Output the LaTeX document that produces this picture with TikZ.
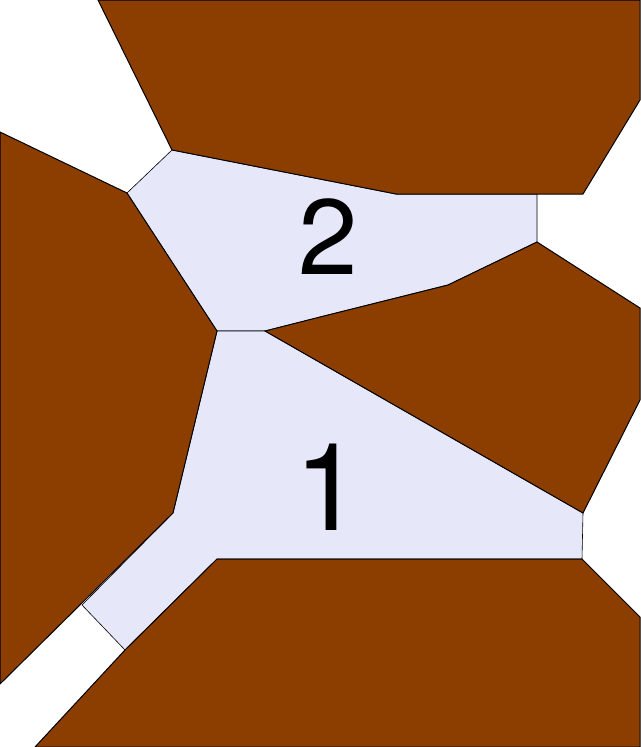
\documentclass[tikz,border=0pt]{standalone}
\usepackage{fontspec}
\setmainfont{TeX Gyre Heros}
\definecolor{rock}{RGB}{139,62,0}
\definecolor{room}{RGB}{230,232,250}
\begin{document}
\begin{tikzpicture}[x=1pt,y=-1pt,
  rockface/.style={fill=rock,draw=black,line width=1pt,line join=miter},
  roomface/.style={fill=room,draw=black,line width=0.6pt},
  bignum/.style={inner sep=0pt,anchor=base,text=black}]
\useasboundingbox (0,0) rectangle (640,747);
\fill[white] (0,0) rectangle (640,747);
% light regions
\draw[roomface] (127,193) -- (172,150) -- (396,194) -- (537,194) -- (537,242) -- (448,285) -- (265,331) -- (217,331) -- cycle;
\draw[roomface] (217,331) -- (265,331) -- (583,513) -- (582,559) -- (217,559) -- (125,650) -- (82,605) -- (173,513) -- cycle;
% rock polygons
\draw[rockface] (98,0) -- (640,0) -- (640,100) -- (583,194) -- (396,194) -- (172,150) -- cycle;
\draw[rockface] (0,132) -- (127,193) -- (217,331) -- (173,513) -- (0,684) -- cycle;
\draw[rockface] (265,331) -- (320,317) -- (448,285) -- (537,242) -- (640,308) -- (640,400) -- (583,513) -- cycle;
\draw[rockface] (35,747) -- (125,650) -- (217,559) -- (582,559) -- (640,617) -- (640,747) -- cycle;
% labels
\node[bignum,font=\fontsize{107}{107}\selectfont] (two) at (328.5,274) {2};
\node[bignum,font=\fontsize{122}{122}\selectfont] (one) at (328,530) {1};
\end{tikzpicture}
\end{document}
